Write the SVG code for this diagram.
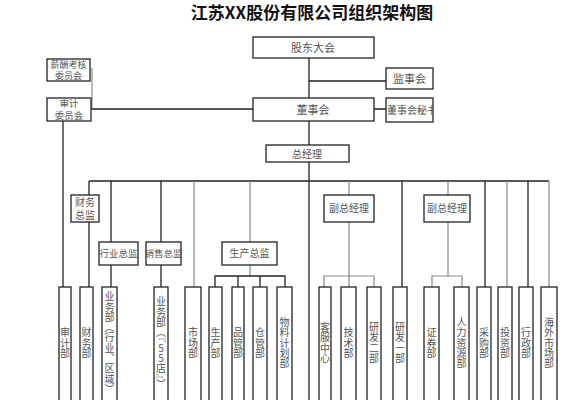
<svg xmlns="http://www.w3.org/2000/svg" width="585" height="400" viewBox="0 0 585 400">
<style>
.bx{fill:#fff;stroke:#222;stroke-width:1.3}
.ln{stroke:#222;stroke-width:1.3;fill:none}
.lg{stroke:#888;stroke-width:1.2;fill:none}
.t{font-family:"Noto Sans CJK SC","Noto Sans",sans-serif;font-size:11px;fill:#555;text-anchor:middle}
.s{font-size:10px}
.m{font-size:9.5px}
.w{font-family:"Liberation Sans","Noto Sans CJK SC",sans-serif;fill:#555;text-anchor:middle}
.v{font-family:"Noto Sans CJK SC","Noto Sans",sans-serif;font-size:10px;fill:#555;text-anchor:middle;writing-mode:vertical-rl;text-orientation:upright;letter-spacing:0.3px}
</style>
<defs><clipPath id="cs"><rect x="386" y="98" width="47" height="24"/></clipPath></defs>
<rect width="585" height="400" fill="#fff"/>
<text x="312" y="19" font-family="'Noto Sans CJK SC',sans-serif" font-size="17" font-weight="bold" fill="#111" text-anchor="middle">江苏XX股份有限公司组织架构图</text>
<g id="connectors">
<path class="ln" d="M309,58V98M309,81H386M374,109H386M91,109H253M309,121V145M309,162V400M89,181H549"/>
<path class="lg" d="M90,69H92V109"/>
<path class="ln" d="M63,121V287"/>
<path class="ln" d="M89,181V195M89,222V287"/>
<path class="ln" d="M111,181V242M111,265V287"/>
<path class="ln" d="M161,181V242M161,265V287"/>
<path class="lg" d="M194,181V287"/>
<path class="lg" d="M250,181V242M250,265V276"/>
<path class="ln" d="M215,287V276H285V287M238,276V287M260,276V287"/>
<path class="lg" d="M349,181V195M349,222V287"/>
<path class="lg" d="M324,287V276H374V287"/>
<path class="ln" d="M402,181V287"/>
<path class="lg" d="M448,181V195M448,222V276"/>
<path class="lg" d="M432,287V276H462V287"/>
<path class="ln" d="M485,181V287"/>
<path class="lg" d="M507,181V287"/>
<path class="ln" d="M528,181V287"/>
<path class="lg" d="M549,181V287"/>
</g>
<g id="gudong"><rect class="bx" x="253" y="37" width="121" height="21"/><text class="t" x="313" y="51.5">股东大会</text></g>
<g id="jianshi"><rect class="bx" x="386" y="68" width="47" height="21"/><text class="t" x="409.5" y="82.5">监事会</text></g>
<g id="dongshi"><rect class="bx" x="253" y="98" width="121" height="23"/><text class="t" x="313" y="113.5">董事会</text></g>
<g id="mishu"><rect class="bx" x="386" y="98" width="47" height="24"/><text class="t s" x="387" y="113.5" style="text-anchor:start" clip-path="url(#cs)">董事会秘书</text></g>
<g id="xinchou"><rect class="bx" x="47" y="59" width="43" height="22"/><text class="w" font-size="9"><tspan x="68.5" y="68.3">薪酬考核</tspan><tspan x="68.5" y="79.2">委员会</tspan></text></g>
<g id="shenji"><rect class="bx" x="47" y="98" width="44" height="23"/><text class="w" font-size="9.5"><tspan x="69" y="107.3">审计</tspan><tspan x="69" y="119.2">委员会</tspan></text></g>
<g id="zongjingli"><rect class="bx" x="266" y="145" width="83" height="17"/><text class="t s" x="307" y="157.5">总经理</text></g>
<g id="caiwuzj"><rect class="bx" x="71" y="195" width="28" height="27"/><text class="w" font-size="10"><tspan x="85" y="205.5">财务</tspan><tspan x="85" y="218.8">总监</tspan></text></g>
<g id="hangyezj"><rect class="bx" x="99" y="242" width="39" height="23"/><text class="t m" x="118.5" y="257">行业总监</text></g>
<g id="xiaoshouzj"><rect class="bx" x="146" y="242" width="35" height="23"/><text class="t m" x="163.5" y="257">销售总监</text></g>
<g id="shengchanzj"><rect class="bx" x="222" y="242" width="55" height="23"/><text class="t s" x="249.5" y="257">生产总监</text></g>
<g id="fuzong1"><rect class="bx" x="324" y="195" width="50" height="27"/><text class="t s" x="349" y="212">副总经理</text></g>
<g id="fuzong2"><rect class="bx" x="424" y="195" width="46" height="27"/><text class="t s" x="447" y="212">副总经理</text></g>
<g id="d1"><rect class="bx" x="59" y="287" width="12" height="130"/><text class="v" x="65" y="343">审计部</text></g>
<g id="d2"><rect class="bx" x="80" y="287" width="13" height="130"/><text class="v" x="86.5" y="343">财务部</text></g>
<g id="d3"><rect class="bx" x="102" y="287" width="15" height="130"/><text class="v" x="109.5" y="343">业务部（行业、区域）</text></g>
<g id="d4"><rect class="bx" x="154" y="287" width="14" height="130"/><text class="v" x="161" y="343">业务部（“55店”）</text></g>
<g id="d5"><rect class="bx" x="185" y="287" width="16" height="130"/><text class="v" x="193" y="343">市场部</text></g>
<g id="d6"><rect class="bx" x="209" y="287" width="13" height="130"/><text class="v" x="215.5" y="343">生产部</text></g>
<g id="d7"><rect class="bx" x="232" y="287" width="12" height="130"/><text class="v" x="238" y="343">品管部</text></g>
<g id="d8"><rect class="bx" x="253" y="287" width="14" height="130"/><text class="v" x="260" y="343">仓管部</text></g>
<g id="d9"><rect class="bx" x="277" y="287" width="15" height="130"/><text class="v" x="284.5" y="343">物料计划部</text></g>
<g id="d10"><rect class="bx" x="319" y="287" width="12" height="130"/><text class="v" x="325" y="343">客服中心</text></g>
<g id="d11"><rect class="bx" x="341" y="287" width="15" height="130"/><text class="v" x="348.5" y="343">技术部</text></g>
<g id="d12"><rect class="bx" x="367" y="287" width="14" height="130"/><text class="v" x="374" y="343">研发二部</text></g>
<g id="d13"><rect class="bx" x="393" y="287" width="14" height="130"/><text class="v" x="400" y="343">研发一部</text></g>
<g id="d14"><rect class="bx" x="424" y="287" width="15" height="130"/><text class="v" x="431.5" y="343">证券部</text></g>
<g id="d15"><rect class="bx" x="454" y="287" width="15" height="130"/><text class="v" x="461.5" y="343">人力资源部</text></g>
<g id="d16"><rect class="bx" x="477" y="287" width="14" height="130"/><text class="v" x="484" y="343">采购部</text></g>
<g id="d17"><rect class="bx" x="498" y="287" width="14" height="130"/><text class="v" x="505" y="343">投资部</text></g>
<g id="d18"><rect class="bx" x="519" y="287" width="14" height="130"/><text class="v" x="526" y="343">行政部</text></g>
<g id="d19"><rect class="bx" x="541" y="287" width="16" height="130"/><text class="v" x="549" y="343">海外市场部</text></g>
</svg>
